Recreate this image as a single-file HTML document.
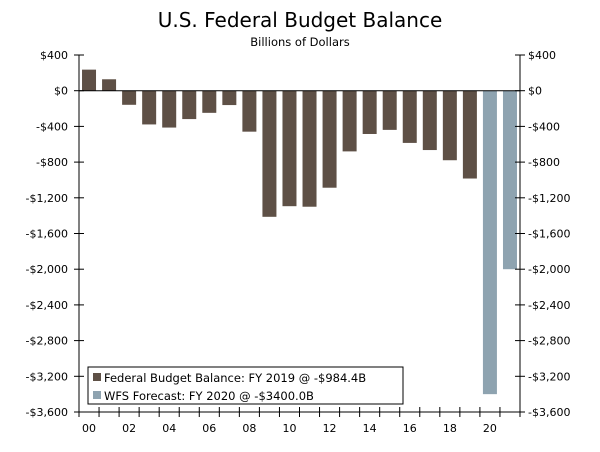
<!DOCTYPE html>
<html><head><meta charset="utf-8"><style>
body{margin:0;background:#fff;}
svg text{font-family:"DejaVu Sans","Liberation Sans",sans-serif;fill:#000;}
</style></head><body>
<svg width="600" height="447">
<text x="300" y="27" font-size="20" text-anchor="middle">U.S. Federal Budget Balance</text>
<text x="300" y="46" font-size="11.5" text-anchor="middle">Billions of Dollars</text>
<g id="plot"></g>
<g>
<rect x="88" y="367" width="315" height="37" fill="#fff" stroke="#000" stroke-width="1"/>
<rect x="93" y="373" width="8" height="8" fill="#5e5046"/>
<text x="104" y="382" font-size="11.5">Federal Budget Balance: FY 2019 @ -$984.4B</text>
<rect x="93" y="391" width="8" height="8" fill="#8ea3b0"/>
<text x="104" y="400" font-size="11.5">WFS Forecast: FY 2020 @ -$3400.0B</text>
</g>
</svg>
<script>
const years=["00","01","02","03","04","05","06","07","08","09","10","11","12","13","14","15","16","17","18","19","20","21"];
const actual=[236,128,-158,-378,-413,-318,-248,-161,-459,-1413,-1294,-1300,-1087,-680,-485,-439,-585,-665,-779,-984,null,null];
const forecast=[null,null,null,null,null,null,null,null,null,null,null,null,null,null,null,null,null,null,null,null,-3400,-2000];
const yTicks=[400,0,-400,-800,-1200,-1600,-2000,-2400,-2800,-3200,-3600];
const yLabels=["$400","$0","-$400","-$800","-$1,200","-$1,600","-$2,000","-$2,400","-$2,800","-$3,200","-$3,600"];
const xLabels=["00","02","04","06","08","10","12","14","16","18","20"];
const L=79,R=520,T=55,B=412,ymax=400,ymin=-3600;
const ns="http://www.w3.org/2000/svg";
const g=document.getElementById('plot');
const y=v=>T+(ymax-v)/(ymax-ymin)*(B-T);
const bw=(R-L)/years.length;
const x=i=>L+bw*(i+0.5);
function mk(t,a){const e=document.createElementNS(ns,t);for(const k in a)e.setAttribute(k,a[k]);g.appendChild(e);return e;}
function bar(i,v,c,n){if(v===null)return;const y0=y(0),y1=y(v);
const r=mk('rect',{x:x(i)-7,y:Math.min(y0,y1),width:14,height:Math.abs(y1-y0),fill:c});

}
actual.forEach((v,i)=>bar(i,v,'#5e5046','bar-actual'));
forecast.forEach((v,i)=>bar(i,v,'#8ea3b0','bar-forecast'));
mk('line',{x1:L,y1:T,x2:L,y2:B,stroke:'#000'});
mk('line',{x1:R,y1:T,x2:R,y2:B,stroke:'#000'});
mk('line',{x1:L,y1:B,x2:R,y2:B,stroke:'#000'});
mk('line',{x1:L,y1:y(0),x2:R,y2:y(0),stroke:'#000'});
yTicks.forEach((v,i)=>{const yy=y(v);
mk('line',{x1:L-5,y1:yy,x2:L+5,y2:yy,stroke:'#000'});
mk('line',{x1:R-5,y1:yy,x2:R+5,y2:yy,stroke:'#000'});
const t1=mk('text',{x:L-11,y:yy+4,'font-size':11,'text-anchor':'end'});t1.textContent=yLabels[i];


const t2=mk('text',{x:R+8,y:yy+4,'font-size':11});t2.textContent=yLabels[i];

});
for(let i=0;i<=years.length;i++){const xx=L+bw*i;mk('line',{x1:xx,y1:B-5,x2:xx,y2:B+5,stroke:'#000'});}
xLabels.forEach(lb=>{const i=years.indexOf(lb);const t=mk('text',{x:x(i),y:B+20,'font-size':11,'text-anchor':'middle'});t.textContent=lb;

});
</script>
</body></html>
